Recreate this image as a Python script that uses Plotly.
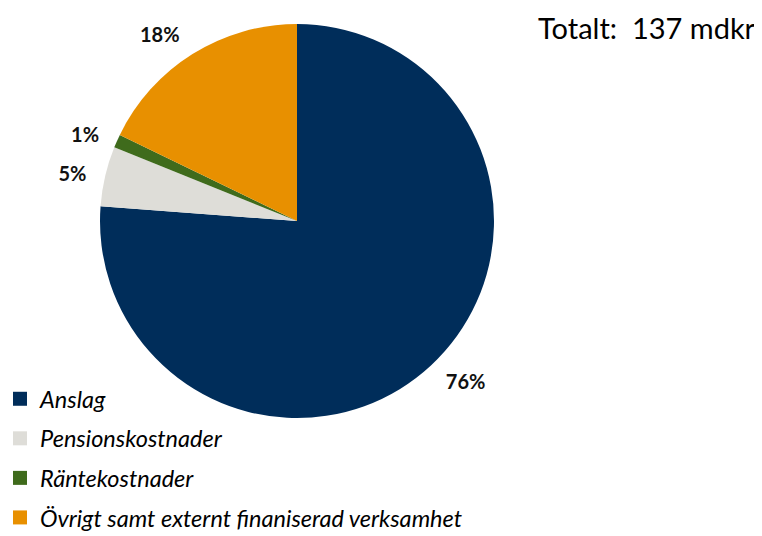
import plotly.graph_objects as go

# andelar av totala utgifter (procent)
categories = ["Anslag", "Pensionskostnader", "Räntekostnader",
              "Övrigt samt externt finaniserad verksamhet"]
shares = [76.2, 4.9, 1.1, 17.8]
colors = ["#002D5A", "#DEDDD8", "#3F6B1C", "#E89000"]
total_text = "Totalt:  137 mdkr"

W, H = 762, 536


def box(cx, cy, r):
    # pixel circle -> paper domain
    return dict(x=[(cx - r) / W, (cx + r) / W], y=[(H - cy - r) / H, (H - cy + r) / H])


fig = go.Figure()
# the pie itself
fig.add_trace(go.Pie(
    labels=categories, values=shares, sort=False, direction="clockwise",
    rotation=0, marker=dict(colors=colors, line=dict(width=0)),
    textinfo="none", showlegend=False, hoverinfo="label+percent",
    domain=box(289, 213, 197),
))
# same slices, transparent and a bit larger, only to carry the outside labels
fig.add_trace(go.Pie(
    labels=categories, values=shares, sort=False, direction="clockwise",
    rotation=0, marker=dict(colors=["rgba(0,0,0,0)"] * 4, line=dict(width=0)),
    texttemplate="<b>%{percent:.0%}</b>", textposition="outside",
    textfont=dict(family="Lato", size=20, color="#111111"),
    showlegend=False, hoverinfo="skip",
    domain=box(289, 213, 210),
))

# legend entries as square markers, one group each for the spacing
for i, (name, c) in enumerate(zip(categories, colors)):
    fig.add_trace(go.Scatter(
        x=[None], y=[None], mode="markers", name=name, legendgroup=str(i),
        marker=dict(symbol="square", size=14, color=c),
    ))

fig.add_annotation(text=total_text, x=750 / W, y=1, xref="paper", yref="paper",
                   xanchor="right", yanchor="top", showarrow=False,
                   font=dict(family="Lato", size=29, color="#000000"))

fig.update_layout(
    width=W, height=H, margin=dict(l=0, r=0, t=0, b=0, autoexpand=False),
    paper_bgcolor="white", plot_bgcolor="white",
    xaxis=dict(visible=False), yaxis=dict(visible=False),
    legend=dict(x=-8 / W, y=4 / H, xanchor="left", yanchor="bottom",
                tracegroupgap=6, font=dict(family="Lato", size=23.5, style="italic", color="#000000"),
                bgcolor="rgba(0,0,0,0)"),
)
fig.write_html("out.html")
